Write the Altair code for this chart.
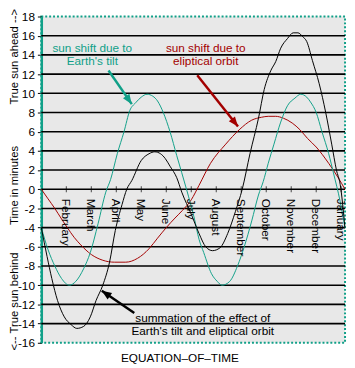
import math
import altair as alt
import pandas as pd

# ---------------- data (x in month-tick units: 0 = left edge, 1 = February tick ...) -------------
tilt_x = [0, 0.27, 0.54, 0.81, 1.12, 1.38, 1.69, 1.96, 2.27, 2.58, 2.77, 3.04, 3.31, 3.54, 3.77, 4.0,
          4.23, 4.46, 4.65, 4.88, 5.15, 5.42, 5.81, 6.12, 6.31, 6.5, 6.81, 7.04, 7.23, 7.54, 7.85, 8.12,
          8.42, 8.69, 8.88, 9.08, 9.31, 9.58, 9.85, 10.15, 10.38, 10.62, 10.77, 11.0, 11.23, 11.5, 11.69,
          11.96, 12.15]
tilt_y = [-4.0, -6.3, -8.0, -9.3, -10.0, -9.6, -8.3, -6.6, -3.6, -0.3, 1.0, 3.7, 6.0, 8.2, 9.0, 9.6,
          9.9, 9.7, 9.2, 8.0, 6.0, 3.5, 0.0, -3.0, -5.2, -6.6, -8.8, -9.6, -10.0, -9.6, -8.0, -6.0,
          -3.3, -0.6, 0.8, 2.7, 4.7, 7.0, 8.7, 9.5, 9.9, 9.6, 9.1, 8.0, 6.0, 3.7, 1.7,
          -1.3, -4.0]

orbit_x = [0, 0.27, 0.54, 0.81, 1.04, 1.31, 1.58, 2.0, 2.46, 2.92, 3.38, 3.85, 4.31, 4.65, 5.0, 5.35,
           5.65, 6.0, 6.31, 6.77, 7.38, 7.92, 8.42, 8.81, 9.08, 9.38, 9.69, 10.04, 10.35, 10.65, 11.0,
           11.5, 11.88, 12.15]
orbit_y = [0.0, -1.0, -2.0, -3.1, -4.0, -5.0, -5.8, -6.8, -7.4, -7.6, -7.6, -7.2, -6.2, -5.1, -4.0, -3.0,
           -2.2, -1.1, 0.4, 2.7, 4.7, 6.2, 7.2, 7.5, 7.6, 7.6, 7.4, 6.9, 6.2, 5.3, 4.4,
           2.7, 1.2, 0.0]

sum_x = [0, 0.23, 0.42, 0.65, 0.92, 1.19, 1.42, 1.69, 1.96, 2.19, 2.46, 2.73, 2.96, 3.23, 3.42, 3.62,
         4.0, 4.31, 4.54, 4.77, 4.96, 5.15, 5.42, 5.62, 6.0, 6.31, 6.58, 6.85, 7.15, 7.46, 7.77, 8.04,
         8.35, 8.69, 8.92, 9.19, 9.38, 9.58, 9.85, 10.08, 10.27, 10.46, 10.62, 10.85, 11.12, 11.38,
         11.62, 11.81, 11.96, 12.15]
sum_y = [-4.0, -7.0, -9.3, -11.6, -13.3, -14.1, -14.5, -14.3, -13.3, -11.6, -10.0, -7.6, -4.3, -1.6, 0.0, 0.9,
         3.0, 3.7, 3.9, 3.7, 3.2, 2.4, 1.2, -0.3, -2.6, -4.6, -6.0, -6.4, -6.1, -4.6, -2.3, 0.0,
         3.7, 7.4, 10.4, 12.4, 13.3, 14.7, 15.7, 16.3, 16.3, 15.9, 15.4, 13.4, 11.0, 8.0,
         4.7, 2.0, 0.5, -4.0]

months = ["February", "March", "April", "May", "June", "July", "August", "September",
          "October", "November", "December", "January"]
month_pos = [1, 2, 3, 4, 5, 6, 7, 8, 9, 10, 11, 12]

y_ticks = list(range(-16, 19, 2))
grid_levels = list(range(-14, 17, 2))

note_text = ["sun shift due to", "Earth's tilt",
             "sun shift due to", "eliptical orbit",
             "summation of the effect of", "Earth's tilt and eliptical orbit"]
note_x = [2.04, 2.04, 6.58, 6.58, 6.46, 6.46]
note_y = [14.7, 13.4, 14.7, 13.4, -13.47, -14.8]
note_key = ["tilt", "tilt", "orbit", "orbit", "sum", "sum"]

arrow_key = ["tilt", "orbit", "sum"]
arrow_x1 = [2.69, 6.24, 3.72]
arrow_y1 = [12.37, 11.87, -12.9]
arrow_x2 = [3.62, 7.87, 2.42]
arrow_y2 = [8.87, 6.53, -10.57]

side_text = ["True sun ahead -->", "Time in minutes", "<-- True sun behind"]
side_y = [13.8, 0.4, -11.7]

# ---------------- style ----------------
TEAL = "#10a088"
RED = "#a30000"
FONT = "Liberation Sans"
W, H = 310, 333
XMAX = 12.154
SX = W / XMAX
SY = H / 34.0

color_scale = alt.Scale(domain=["tilt", "orbit", "sum"], range=[TEAL, RED, "#000000"])
xs = alt.Scale(domain=[0, XMAX], nice=False, zero=False)
ys = alt.Scale(domain=[-16, 18], nice=False, zero=False)
yaxis = alt.Axis(values=y_ticks, labelExpr="'' + datum.value", labelFont=FONT,
                 labelFontSize=12, labelColor="black", tickColor="black", tickSize=4,
                 tickWidth=1, domainColor=TEAL, domainWidth=2.5, labelPadding=3,
                 grid=False, title=None, labelOverlap=False, labelBound=False,
                 labelFlush=False)


def Y(field):
    return alt.Y(field, scale=ys, axis=yaxis)


def YD(v):
    return alt.YDatum(v, scale=ys, axis=yaxis)


curves = pd.concat([
    pd.DataFrame({"m": orbit_x, "v": orbit_y, "key": "orbit"}),
    pd.DataFrame({"m": tilt_x, "v": tilt_y, "key": "tilt"}),
    pd.DataFrame({"m": sum_x, "v": sum_y, "key": "sum"}),
])

grid = alt.Chart(pd.DataFrame({"lvl": grid_levels})).mark_rule(
    color="black", strokeWidth=1.6
).encode(y=Y("lvl:Q"))

lines = alt.Chart(curves).mark_line(strokeWidth=1, interpolate="monotone").encode(
    x=alt.X("m:Q", scale=xs, axis=None),
    y=Y("v:Q"),
    color=alt.Color("key:N", scale=color_scale, legend=None),
    detail="key:N",
)

mdf = pd.DataFrame({"m": month_pos, "name": months})
mticks = alt.Chart(mdf).mark_tick(orient="vertical", size=6, thickness=1, color="black").encode(
    x=alt.X("m:Q", scale=xs, axis=None), y=YD(0)
)
mlabels = alt.Chart(mdf).mark_text(angle=90, align="left", baseline="middle", font=FONT,
                                   fontSize=12, color="black").encode(
    x=alt.X("m:Q", scale=xs, axis=None), y=YD(-1.0), text="name:N"
)

notes = alt.Chart(pd.DataFrame({"x": note_x, "y": note_y, "t": note_text, "key": note_key})).mark_text(
    font=FONT, fontSize=12, align="center", baseline="middle"
).encode(
    x=alt.X("x:Q", scale=xs, axis=None), y=Y("y:Q"), text="t:N",
    color=alt.Color("key:N", scale=color_scale, legend=None)
)

adf = pd.DataFrame({"key": arrow_key, "x1": arrow_x1, "y1": arrow_y1, "x2": arrow_x2, "y2": arrow_y2})
adf["ang"] = [
    (math.degrees(math.atan2((b - a) * SX, (d - c) * SY)) + 360) % 360
    for a, b, c, d in zip(adf.x1, adf.x2, adf.y1, adf.y2)
]
shafts = alt.Chart(adf).mark_rule(strokeWidth=2.5).encode(
    x=alt.X("x1:Q", scale=xs, axis=None), y=Y("y1:Q"), x2="x2:Q", y2="y2:Q",
    color=alt.Color("key:N", scale=color_scale, legend=None)
)
heads = alt.Chart(adf).mark_point(
    shape="M0,0L0.4,1L-0.4,1Z", filled=True, size=400, opacity=1
).encode(
    x=alt.X("x2:Q", scale=xs, axis=None), y=Y("y2:Q"),
    angle=alt.Angle("ang:Q", scale=None),
    color=alt.Color("key:N", scale=color_scale, legend=None)
)

side = alt.Chart(pd.DataFrame({"t": side_text, "y": side_y})).mark_text(
    angle=270, align="center", baseline="middle", font=FONT, fontSize=11.5, color="black"
).encode(x=alt.value(-27), y=Y("y:Q"), text="t:N")

title = alt.Chart(pd.DataFrame({"t": ["EQUATION\u2013OF\u2013TIME"]})).mark_text(
    align="center", baseline="alphabetic", font=FONT, fontSize=12, color="black"
).encode(x=alt.value(141.5), y=alt.value(H + 19.5), text="t:N")

chart = alt.layer(grid, lines, mticks, mlabels, notes, shafts, heads, side, title).properties(
    width=W, height=H,
    padding={"left": 34, "top": 5, "right": 2, "bottom": 20},
    autosize=alt.AutoSizeParams(type="none"),
    background="white",
).configure_view(
    fill="#e8e8e8", stroke=TEAL, strokeDash=[2, 2], strokeWidth=2
)

chart.save("out.html", embed_options={"renderer": "svg", "actions": False})
